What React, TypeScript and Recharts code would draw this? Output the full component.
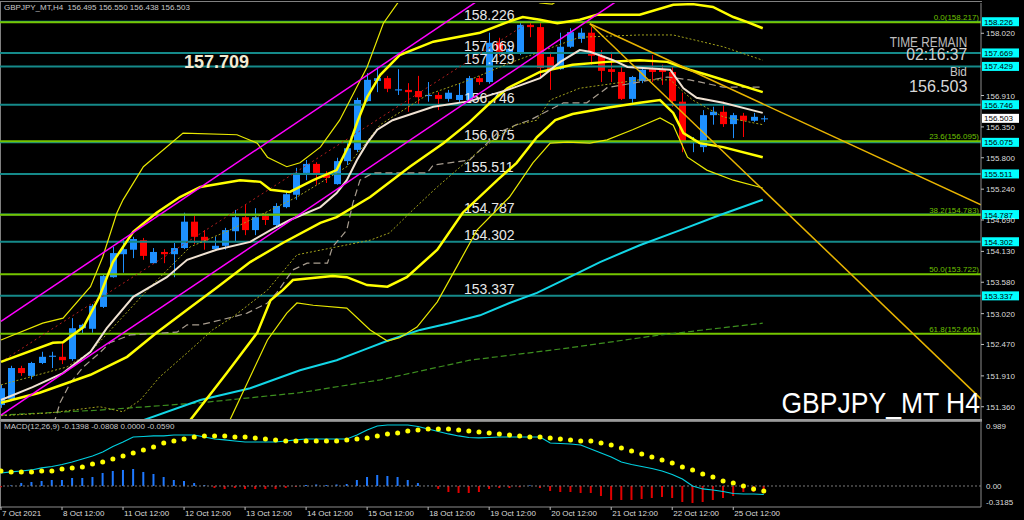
import React from 'react';
import { ComposedChart, Bar, Line, XAxis, YAxis, ReferenceLine, Cell } from 'recharts';

const FONT = '"Liberation Sans", Arial, sans-serif';

// H4 candles, 7 Oct 12:00 .. 25 Oct
const OPEN = [151.39, 151.50, 152.05, 151.91, 152.14, 152.25, 152.25, 152.21, 152.76, 152.75,
  153.14, 153.67, 154.08, 154.16, 154.33, 153.92, 154.12, 154.08, 154.19, 154.66,
  154.39, 154.17, 154.23, 154.49, 154.74, 154.51, 154.76, 154.60, 154.92, 155.14,
  155.53, 155.69, 155.51, 155.33, 155.74, 155.94, 156.81, 157.17, 157.22, 157.00,
  157.01, 156.99, 156.90, 156.92, 156.85, 156.83, 156.83, 157.22, 157.15, 157.85,
  157.67, 157.67, 158.17, 158.13, 157.60, 157.38, 157.78, 157.92, 158.03, 157.62,
  157.38, 157.33, 156.85, 157.17, 157.38, 157.37, 157.33, 156.80, 156.06, 155.99,
  156.56, 156.62, 156.40, 156.55, 156.46, 156.495];
const HIGH = [151.75, 152.09, 152.09, 152.16, 152.34, 152.34, 152.50, 152.94, 152.84, 153.19,
  153.71, 154.21, 154.33, 154.39, 154.37, 154.19, 154.17, 154.28, 154.82, 154.76,
  154.51, 154.39, 154.55, 154.87, 154.96, 154.90, 154.82, 154.99, 155.19, 155.62,
  155.76, 155.72, 155.56, 155.80, 156.06, 156.87, 157.31, 157.42, 157.26, 157.38,
  157.13, 157.26, 157.15, 156.97, 157.01, 157.13, 157.26, 157.26, 158.03, 157.94,
  157.81, 158.20, 158.20, 158.20, 157.69, 158.03, 158.11, 158.11, 158.13, 157.72,
  157.69, 157.42, 157.26, 157.42, 157.63, 157.46, 157.42, 156.96, 156.17, 156.65,
  156.71, 156.80, 156.60, 156.60, 156.60, 156.550];
const LOW = [151.34, 151.46, 151.91, 151.85, 152.12, 152.05, 152.12, 152.18, 152.66, 152.68,
  153.12, 153.66, 153.75, 154.01, 153.98, 153.91, 153.92, 153.67, 154.17, 154.26,
  154.16, 154.16, 154.16, 154.30, 154.42, 154.42, 154.60, 154.58, 154.90, 155.05,
  155.40, 155.32, 155.35, 155.32, 155.67, 155.90, 156.80, 156.97, 156.97, 156.92,
  156.62, 156.74, 156.80, 156.65, 156.80, 156.78, 156.81, 157.10, 157.12, 157.63,
  157.61, 157.63, 157.95, 157.24, 157.01, 157.37, 157.76, 157.85, 157.46, 157.15,
  157.15, 156.83, 156.78, 157.13, 157.15, 157.10, 156.71, 155.90, 155.90, 155.90,
  156.39, 156.35, 156.15, 156.17, 156.44, 156.438];
const CLOSE = [151.69, 152.05, 151.96, 152.14, 152.25, 152.27, 152.19, 152.76, 152.82, 153.16,
  153.69, 154.10, 154.17, 154.35, 154.05, 154.12, 154.08, 154.19, 154.66, 154.39,
  154.32, 154.23, 154.51, 154.74, 154.51, 154.74, 154.69, 154.94, 155.15, 155.53,
  155.69, 155.53, 155.44, 155.74, 155.97, 156.83, 157.19, 157.22, 157.03, 157.02,
  156.97, 156.88, 156.92, 156.85, 156.96, 156.92, 157.22, 157.15, 157.85, 157.69,
  157.74, 158.17, 158.13, 157.40, 157.37, 157.78, 158.04, 158.03, 157.62, 157.35,
  157.33, 156.85, 157.24, 157.37, 157.33, 157.33, 156.81, 156.06, 156.08, 156.56,
  156.62, 156.40, 156.56, 156.46, 156.53, 156.503];

const PRICE_TICKS = [158.02, 156.91, 156.35, 155.8, 155.24, 154.69, 154.13, 153.58, 153.02, 152.47, 151.91, 151.36];
const LEVELS = [158.226, 157.669, 157.429, 156.746, 156.075, 155.511, 154.787, 154.302, 153.337];
const FIB_PCT = ['0.0', '23.6', '38.2', '50.0', '61.8'];
const FIB_PRICE = [158.217, 156.095, 154.783, 153.722, 152.661];
const BID = 156.503;

const TIME_IDX = [0, 6, 12, 18, 24, 30, 36, 42, 48, 54, 60, 66, 72];
const TIME_LABELS = ['7 Oct 2021', '8 Oct 12:00', '11 Oct 12:00', '12 Oct 12:00', '13 Oct 12:00', '14 Oct 12:00',
  '15 Oct 12:00', '18 Oct 12:00', '19 Oct 12:00', '20 Oct 12:00', '21 Oct 12:00', '22 Oct 12:00', '25 Oct 12:00'];

const MACD_MAIN = [0.214, 0.231, 0.247, 0.264, 0.297, 0.321, 0.354, 0.395, 0.445, 0.494,
  0.560, 0.651, 0.725, 0.807, 0.815, 0.824, 0.824, 0.840, 0.840, 0.840,
  0.807, 0.774, 0.758, 0.741, 0.725, 0.725, 0.725, 0.725, 0.741, 0.758,
  0.774, 0.774, 0.774, 0.774, 0.774, 0.840, 0.923, 0.988, 1.005, 1.005,
  1.005, 0.980, 0.939, 0.898, 0.857, 0.824, 0.799, 0.791, 0.799, 0.807,
  0.807, 0.807, 0.807, 0.807, 0.708, 0.700, 0.692, 0.675, 0.610, 0.544,
  0.478, 0.395, 0.354, 0.321, 0.288, 0.247, 0.189, 0.115, 0.000, -0.049,
  -0.066, -0.091, -0.124, -0.132, -0.132, -0.1398];
const MACD_SIGNAL = [0.247, 0.231, 0.231, 0.231, 0.247, 0.247, 0.280, 0.297, 0.313, 0.362,
  0.395, 0.445, 0.494, 0.544, 0.593, 0.643, 0.708, 0.741, 0.774, 0.807,
  0.824, 0.824, 0.824, 0.807, 0.807, 0.791, 0.774, 0.758, 0.741, 0.741,
  0.741, 0.741, 0.741, 0.741, 0.758, 0.774, 0.791, 0.824, 0.857, 0.873,
  0.906, 0.923, 0.939, 0.939, 0.939, 0.923, 0.906, 0.890, 0.873, 0.857,
  0.840, 0.824, 0.807, 0.807, 0.791, 0.774, 0.758, 0.741, 0.741, 0.708,
  0.675, 0.626, 0.577, 0.527, 0.478, 0.428, 0.379, 0.313, 0.264, 0.198,
  0.148, 0.082, 0.049, 0.000, -0.049, -0.0808];
const MACD_HIST = [-0.020, 0.010, 0.050, 0.066, 0.082, 0.099, 0.099, 0.132, 0.132, 0.148,
  0.214, 0.247, 0.264, 0.280, 0.231, 0.198, 0.148, 0.099, 0.082, 0.049,
  0.016, -0.033, -0.049, -0.033, -0.049, -0.049, -0.049, -0.049, -0.033, -0.016,
  0.016, 0.025, 0.016, 0.025, 0.033, 0.099, 0.148, 0.181, 0.165, 0.148,
  0.099, 0.049, 0.005, -0.049, -0.099, -0.115, -0.115, -0.099, -0.049, -0.033,
  -0.033, -0.020, 0.010, -0.033, -0.082, -0.099, -0.099, -0.115, -0.115, -0.165,
  -0.231, -0.231, -0.231, -0.214, -0.198, -0.181, -0.198, -0.264, -0.280, -0.264,
  -0.231, -0.198, -0.165, -0.099, -0.099, -0.059];
const MACD_TICKS = [0.989, 0, -0.3185];
const MACD_TICK_LABELS = ['0.989', '0.00', '-0.3185'];

// indicator traces: [bar index, price]
const BB_THICK_UP = [[0, 152.16], [5.1, 152.5], [6.1, 152.51], [8.1, 152.78], [9.7, 153.33], [11, 153.94], [13, 154.48],
  [15.3, 154.82], [17.6, 155.1], [19.6, 155.28], [23.5, 155.4], [25.5, 155.37], [26.5, 155.23], [28.4, 155.19],
  [30.7, 155.4], [33, 155.58], [34.3, 156.06], [35.1, 156.47], [36, 156.88], [37.3, 157.28], [39.2, 157.63],
  [42.5, 157.87], [47.1, 158.03], [49.8, 158.22], [51.3, 158.31], [53, 158.26], [54.7, 158.2], [56.9, 158.26],
  [58.6, 158.35], [62.8, 158.35], [66.1, 158.53], [68, 158.54], [70, 158.49], [72, 158.31], [73.4, 158.22], [74.9, 158.11]];
const BB_THICK_MID = [[0, 151.43], [3.8, 151.61], [8.8, 151.93], [12.4, 152.25], [15.3, 152.68], [18.3, 153.09],
  [21.2, 153.48], [24.5, 153.94], [27.7, 154.28], [31.4, 154.64], [33, 154.74], [36.3, 155.1], [40.2, 155.64],
  [43.5, 156.06], [46.1, 156.44], [48.1, 156.78], [49.8, 157.04], [53, 157.33], [56.2, 157.46], [59.6, 157.51],
  [62.8, 157.54], [65.5, 157.51], [67.7, 157.37], [69.4, 157.28], [71.7, 157.15], [74.9, 156.97]];
const BB_THICK_LOW = [[16.6, 150.59], [18.6, 151.12], [22.2, 151.96], [25.2, 152.68], [26.5, 153.26], [27.7, 153.44],
  [28.7, 153.62], [32.6, 153.69], [34, 153.67], [36, 153.53], [38, 153.5], [39.9, 153.67], [42.9, 154.16],
  [45.4, 154.82], [48.8, 155.4], [50.7, 155.71], [52.7, 156.17], [54.5, 156.47], [56.2, 156.58], [59.6, 156.69],
  [62.8, 156.78], [64.8, 156.83], [66.1, 156.6], [67.1, 156.24], [68.7, 156.06], [71, 155.99], [74.9, 155.81]];
const BB_THIN_UP = [[0, 152.55], [4.1, 152.85], [6.1, 152.94], [8.8, 153.5], [10, 154.03], [11.4, 154.82], [12, 155.05],
  [14, 155.64], [17.9, 156.24], [23.2, 156.21], [25.2, 156.06], [26.2, 155.81], [28.1, 155.64], [29.4, 155.71],
  [31.4, 155.99], [33.3, 156.47], [36, 157.42], [37.6, 158.2], [39.2, 158.61], [42.2, 159.06], [49.1, 158.88],
  [53, 158.56], [54.2, 158.54], [56.4, 158.79], [60.9, 159.15], [68.7, 159.33], [74.9, 159.15]];
const BB_THIN_LOW = [[21.1, 150.59], [22.5, 151.12], [26.2, 152.55], [28.1, 153.03], [29.1, 153.21], [30.7, 153.17],
  [34, 153.12], [36.3, 152.73], [38, 152.53], [39.2, 152.59], [40.9, 152.78], [42.9, 153.23], [44.8, 153.85],
  [46.8, 154.51], [50, 155.1], [52.3, 155.71], [54, 156.06], [55.7, 156.08], [57.9, 156.06], [59.6, 156.12],
  [62.1, 156.3], [64.8, 156.51], [66.1, 156.38], [67.5, 155.81], [69.4, 155.58], [72, 155.4], [74.9, 155.26]];
const MA_WHITE = [[0, 151.48], [3.1, 151.71], [6.1, 151.96], [8.8, 152.34], [10.4, 152.76], [13, 153.32], [16.3, 153.67],
  [18.3, 153.98], [21.2, 154.16], [24.5, 154.3], [26.5, 154.51], [28.4, 154.69], [31.4, 154.92], [33, 155.17],
  [34, 155.4], [35, 155.76], [36, 156.06], [37, 156.3], [38.5, 156.47], [42.5, 156.71], [46.1, 156.81],
  [49.8, 157.01], [53, 157.22], [55, 157.51], [56.9, 157.72], [57.9, 157.69], [60.2, 157.54], [61.6, 157.42],
  [65.8, 157.37], [67.1, 157.04], [68.4, 156.87], [71, 156.78], [74.9, 156.6]];
const MA_OLIVE_FAST = [[0, 151.75], [6.5, 152.07], [8.8, 152.34], [14.6, 153.48], [18.6, 154.21], [22.5, 154.51],
  [29.1, 155.1], [34, 155.64], [37.3, 156.39], [41.9, 156.92], [46.1, 157.19], [50, 157.49], [52.7, 157.67],
  [56.9, 157.95], [62.8, 157.99], [66.1, 157.99], [71, 157.78], [74.9, 157.54]];
const MA_OLIVE_SLOW = [[0, 151.2], [4.8, 151.25], [9.7, 151.36], [12, 151.27], [13.7, 151.48], [15.6, 151.89],
  [18.3, 152.32], [20.8, 152.73], [22.8, 152.96], [26.2, 153.44], [29.1, 154.07], [33, 154.21], [36.3, 154.33],
  [38.2, 154.46], [40.5, 154.87], [42.9, 155.28], [44.8, 155.58], [46.8, 155.89], [48.8, 156.17], [50.7, 156.39],
  [52.7, 156.47], [54, 156.83], [56.9, 157.04], [62.8, 157.19], [65.8, 157.19], [68, 156.83], [71, 156.53], [74.9, 156.39]];
const KIJUN = [[4.5, 150.9], [5.3, 151.12], [5.8, 151.43], [6.8, 151.78], [8.1, 152.07], [9.7, 152.32], [10.7, 152.5],
  [12.7, 152.64], [17.3, 152.69], [18.3, 152.82], [19.6, 152.82], [22.8, 152.96], [24.2, 153.03], [26.2, 153.21],
  [27.1, 153.39], [28.7, 153.8], [30.1, 153.92], [32.1, 153.92], [32.6, 154.21], [34, 154.51], [34.6, 154.99],
  [35.3, 155.4], [36.6, 155.53], [41.9, 155.53], [42.5, 155.67], [46.1, 155.76], [47.4, 155.99], [48.8, 156.24],
  [50.7, 156.39], [52, 156.47], [55.3, 156.78], [57.6, 156.78], [59.6, 157.05], [65.5, 157.24], [67.7, 157.19],
  [71, 157.06], [74.9, 157.06]];
const MA_CYAN = [[9.7, 150.86], [14, 151.12], [19.6, 151.48], [24.5, 151.69], [29.4, 152.01], [33, 152.19], [35.6, 152.37],
  [38.2, 152.55], [41.2, 152.73], [44.1, 152.85], [47.1, 152.99], [50, 153.21], [52.7, 153.39], [55.9, 153.67],
  [58.9, 153.94], [62.8, 154.24], [66.8, 154.51], [70.7, 154.78], [74.9, 155.05]];
const MA_GREEN = [[0, 151.21], [9.7, 151.3], [19.6, 151.43], [29.4, 151.61], [37.3, 151.84], [46.1, 152.19],
  [55.9, 152.41], [64.8, 152.64], [74.9, 152.85]];
const REG_RED = [[0, 152.16], [51.5, 158.17]];
const CHANNEL_UP = [[0, 152.88], [50, 158.98]];
const CHANNEL_LOW = [[0, 151.21], [62, 158.77]];
const TREND_A = [[57.9, 158.19], [96.36, 154.96]];
const TREND_B = [[57.9, 158.19], [96.36, 151.5]];

const X_DOMAIN = [-0.098, 96.36];

const candles = OPEN.map((o, i) => ({ i, o, h: HIGH[i], l: LOW[i], c: CLOSE[i] }));
const macdData = MACD_MAIN.map((m, i) => ({ i, m, s: MACD_SIGNAL[i], h: MACD_HIST[i] }));
const pts = (a: number[][]) => a.map(([i, v]) => ({ i, v }));

const TRACES = [
  { data: MA_GREEN, stroke: '#3d8f1f', width: 1.2, dash: '6 3' },
  { data: MA_CYAN, stroke: '#12d6e6', width: 2 },
  { data: KIJUN, stroke: '#a89d8f', width: 1.2, dash: '7 4' },
  { data: MA_OLIVE_SLOW, stroke: '#a3a31c', width: 1, dash: '2 2' },
  { data: MA_OLIVE_FAST, stroke: '#a3a31c', width: 1, dash: '2 2' },
  { data: REG_RED, stroke: '#b41e1e', width: 1, dash: '2 3' },
  { data: BB_THIN_UP, stroke: '#e8e800', width: 1.2 },
  { data: BB_THIN_LOW, stroke: '#e8e800', width: 1.2 },
  { data: BB_THICK_UP, stroke: '#ffff00', width: 2.5 },
  { data: BB_THICK_MID, stroke: '#ffff00', width: 2.5 },
  { data: BB_THICK_LOW, stroke: '#ffff00', width: 2.5 },
  { data: MA_WHITE, stroke: '#f0e2d2', width: 2 },
  { data: CHANNEL_UP, stroke: '#ff00ff', width: 1.5 },
  { data: CHANNEL_LOW, stroke: '#ff00ff', width: 1.5 },
  { data: TREND_A, stroke: '#e8b400', width: 1.5 },
  { data: TREND_B, stroke: '#e8b400', width: 1.5 },
];

const Candle = (props: any) => {
  const { x, y, width, height, payload } = props;
  if (!payload || height == null) return null;
  const { o, h, l, c } = payload;
  const up = c >= o;
  const color = up ? '#1e90ff' : '#ff0000';
  const k = height / (h - l || 1);
  const yO = y + (h - o) * k;
  const yC = y + (h - c) * k;
  const top = Math.min(yO, yC);
  const bh = Math.max(1, Math.abs(yO - yC));
  const cx = Math.round(x + width / 2) + 0.5;
  return (
    <g>
      <line x1={cx} x2={cx} y1={y} y2={y + height} stroke={color} strokeWidth={1} />
      <rect x={cx - 3.5} y={top} width={7} height={bh} fill={color} />
    </g>
  );
};

const LevelLabel = (props: any) => {
  const { viewBox, text } = props;
  if (!viewBox) return null;
  const { x, y, width } = viewBox;
  const right = x + width;
  return (
    <g>
      <text x={x + 464} y={y - 2} fill="#e8e8e8" fontSize={14} fontFamily={FONT}>{text}</text>
      <rect x={right + 1} y={y - 4.5} width={37} height={9} fill="#00ffff" />
      <text x={right + 3} y={y + 3} fill="#000" fontSize={8} fontFamily={FONT}>{text}</text>
    </g>
  );
};

const FibLabel = (props: any) => {
  const { viewBox, text } = props;
  if (!viewBox) return null;
  const { x, y, width } = viewBox;
  return (
    <text x={x + width - 2} y={y - 2} textAnchor="end" fill="#6ec000" fontSize={8} fontFamily={FONT}>{text}</text>
  );
};

const BidLabel = (props: any) => {
  const { viewBox, text } = props;
  if (!viewBox) return null;
  const { x, y, width } = viewBox;
  const right = x + width;
  return (
    <g>
      <rect x={right + 1} y={y - 4.5} width={37} height={9} fill="#ffffff" />
      <text x={right + 3} y={y + 3} fill="#000" fontSize={8} fontFamily={FONT}>{text}</text>
    </g>
  );
};

const PriceTick = ({ x, y, payload }: any) => (
  <g>
    <line x1={x - 2} x2={x + 1} y1={y} y2={y} stroke="#bdbdbd" />
    <text x={x + 3} y={y + 3} fill="#dcdcdc" fontSize={8} fontFamily={FONT}>{Number(payload.value).toFixed(3)}</text>
  </g>
);

const MacdTick = ({ x, y, payload }: any) => {
  const k = MACD_TICKS.indexOf(payload.value);
  const dy = k === 2 ? -3 : 0;
  return (
    <text x={x + 3} y={y + 3 + dy} fill="#dcdcdc" fontSize={8} fontFamily={FONT}>{MACD_TICK_LABELS[k]}</text>
  );
};

const TimeTick = ({ x, y, payload }: any) => {
  const k = TIME_IDX.indexOf(payload.value);
  return (
    <g>
      <line x1={x} x2={x} y1={y - 2} y2={y + 1} stroke="#bdbdbd" />
      <text x={x + 1} y={y + 7} fill="#dcdcdc" fontSize={8} fontFamily={FONT}>{TIME_LABELS[k]}</text>
    </g>
  );
};

const txt = (extra: React.CSSProperties): React.CSSProperties => ({
  position: 'absolute', whiteSpace: 'pre', lineHeight: 1, fontFamily: FONT, ...extra,
});

export default function App() {
  const last = candles[candles.length - 1];
  return (
    <div style={{ position: 'absolute', left: 0, top: 0, width: 1024, height: 520, background: '#000', overflow: 'hidden' }}>
      <div style={{ position: 'absolute', left: 0, top: 1, width: 981, height: 417, borderLeft: '1px solid #808080', borderTop: '1px solid #808080', borderBottom: '2px solid #9a9a9a' }} />
      <div style={{ position: 'absolute', left: 0, top: 421, width: 981, height: 86, borderLeft: '1px solid #808080', borderTop: '1px solid #808080' }} />

      <div style={{ position: 'absolute', left: 0, top: 0 }}>
        <ComposedChart width={1024} height={423} data={candles} margin={{ top: 3, right: 0, bottom: 4, left: 0 }}>
          <XAxis type="number" dataKey="i" domain={X_DOMAIN} allowDataOverflow hide />
          <YAxis orientation="right" width={43} domain={[151.141, 158.56]} allowDataOverflow ticks={PRICE_TICKS}
            interval={0} tickSize={0} tickLine={false} axisLine={{ stroke: '#8c8c8c' }} tick={<PriceTick />} />
          {LEVELS.map((v) => (
            <ReferenceLine key={`lv${v}`} y={v} stroke="#158a8a" strokeWidth={2} label={<LevelLabel text={v.toFixed(3)} />} />
          ))}
          {FIB_PRICE.map((v, k) => (
            <ReferenceLine key={`fb${v}`} y={v} stroke="#74c400" strokeWidth={2}
              label={<FibLabel text={`${FIB_PCT[k]}(${v.toFixed(3)})`} />} />
          ))}
          <ReferenceLine y={BID} stroke="none" strokeWidth={0} label={<BidLabel text={BID.toFixed(3)} />} />
          {TRACES.map((t, k) => (
            <Line key={`tr${k}`} data={pts(t.data)} dataKey="v" type="linear" stroke={t.stroke} strokeWidth={t.width}
              strokeDasharray={t.dash} dot={false} activeDot={false} isAnimationActive={false} />
          ))}
          <Bar dataKey={(d: any) => [d.l, d.h]} barSize={7} isAnimationActive={false}
            shape={(p: any) => <Candle {...p} />} />
        </ComposedChart>
      </div>

      <div style={{ position: 'absolute', left: 0, top: 419 }}>
        <ComposedChart width={1024} height={101} data={macdData} margin={{ top: 3, right: 0, bottom: 0, left: 0 }}>
          <XAxis type="number" dataKey="i" domain={X_DOMAIN} allowDataOverflow ticks={TIME_IDX} interval={0}
            height={13} tickSize={0} tickLine={false} axisLine={{ stroke: '#8c8c8c' }} tick={<TimeTick />} />
          <YAxis orientation="right" width={43} domain={[-0.346, 1.054]} allowDataOverflow ticks={MACD_TICKS}
            interval={0} tickSize={0} tickLine={false} axisLine={{ stroke: '#8c8c8c' }} tick={<MacdTick />} />
          <ReferenceLine y={0} stroke="#7a7a7a" strokeDasharray="2 2" />
          <Bar dataKey="h" barSize={2} isAnimationActive={false}>
            {macdData.map((d) => (
              <Cell key={`h${d.i}`} fill={d.h >= 0 ? '#1e78ff' : '#e00000'} />
            ))}
          </Bar>
          <Line dataKey="m" type="linear" stroke="#00d0e0" strokeWidth={1.2} dot={false} activeDot={false} isAnimationActive={false} />
          <Line dataKey="s" type="linear" stroke="none" activeDot={false} isAnimationActive={false}
            dot={(p: any) => <circle key={`s${p.index}`} cx={p.cx} cy={p.cy} r={2.5} fill="#ffff00" />} />
        </ComposedChart>
      </div>

      <div style={txt({ left: 4, top: 4, fontSize: 8, color: '#c8c8c8' })}>
        {`GBPJPY_MT,H4  ${last.o.toFixed(3)} ${last.h.toFixed(3)} ${last.l.toFixed(3)} ${last.c.toFixed(3)}`}
      </div>
      <div style={txt({ left: 184, top: 53, fontSize: 18, fontWeight: 'bold', color: '#f3ead2' })}>157.709</div>
      <div style={txt({ right: 57, top: 35.8, fontSize: 15, lineHeight: 0.8, color: '#bdbdbd', transform: 'scaleX(0.79)', transformOrigin: 'right' })}>TIME REMAIN</div>
      <div style={txt({ right: 57, top: 48, fontSize: 16.5, lineHeight: 0.8, color: '#d0d0d0', transform: 'scaleX(0.95)', transformOrigin: 'right' })}>02:16:37</div>
      <div style={txt({ right: 57, top: 67.3, fontSize: 13, lineHeight: 0.8, color: '#c8c8c8', transform: 'scaleX(0.9)', transformOrigin: 'right' })}>Bid</div>
      <div style={txt({ right: 57, top: 79.6, fontSize: 17, lineHeight: 0.8, color: '#d8d8d8', transform: 'scaleX(0.95)', transformOrigin: 'right' })}>{BID.toFixed(3)}</div>
      <div style={txt({ right: 44, top: 388.5, fontSize: 29, color: '#ffffff', transform: 'scaleX(0.915)', transformOrigin: 'right' })}>GBPJPY_MT H4</div>
      <div style={txt({ left: 4, top: 423, fontSize: 8, color: '#c8c8c8' })}>
        {`MACD(12,26,9) ${MACD_MAIN[75].toFixed(4)} ${MACD_SIGNAL[75].toFixed(4)} 0.0000 ${MACD_HIST[75].toFixed(4)}`}
      </div>
    </div>
  );
}
